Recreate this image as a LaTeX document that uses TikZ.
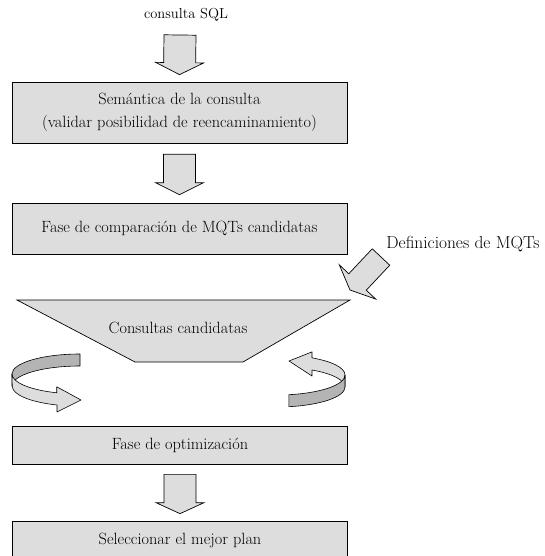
\documentclass[tikz,border=0pt]{standalone}
\usetikzlibrary{calc}

\definecolor{boxgray}{RGB}{221,221,221}
\definecolor{backgray}{RGB}{180,180,180}

% block arrow: tail, tip, half shaft, half head, head length
\newcommand{\bigarrow}[5]{%
  \path ($(#2)!#5!(#1)$) coordinate (hb);
  \draw[blockarrow] ($(#1)!#3!90:(#2)$) -- ($(hb)!#3!90:(#2)$)
    -- ($(hb)!#4!90:(#2)$) -- (#2) -- ($(hb)!#4!-90:(#2)$)
    -- ($(hb)!#3!-90:(#2)$) -- ($(#1)!#3!-90:(#2)$) -- cycle;
}

\begin{document}
\begin{tikzpicture}[
    x=1pt, y=-1pt,
    every node/.style={font=\fontsize{16.3}{23}\selectfont},
    box/.style={rectangle, draw, fill=boxgray, line width=0.7pt,
                minimum width=335pt, align=center, inner sep=0pt},
    blockarrow/.style={draw, fill=boxgray, line width=0.7pt, line join=miter},
    band/.style={draw, line width=0.6pt, line join=round},
    ring/.style={x radius=68, y radius=20}
]
  \useasboundingbox (0,0) rectangle (544,556);

  % Steps
  \node[font=\fontsize{14.5}{17}\selectfont] (sql) at (186,15) {consulta SQL};
  \node[box, minimum height=61pt] (sem) at (179.5,112.5)
    {Sem\'antica de la consulta\\(validar posibilidad de reencaminamiento)};
  \node[box, minimum height=51pt] (comp) at (179.5,228.5)
    {Fase de comparaci\'on de MQTs candidatas};
  \node[font=\fontsize{17.4}{20}\selectfont] (defs) at (463,244)
    {Definiciones de MQTs};

  % Candidate queries
  \coordinate (cand-nw) at (17,300);
  \coordinate (cand-ne) at (350,300);
  \draw[blockarrow] (cand-nw) -- (cand-ne) -- (243,362) -- (135,362) -- cycle;
  \node (cand) at (178,328) {Consultas candidatas};

  \node[box, minimum height=38pt] (opt) at (180,445) {Fase de optimizaci\'on};
  \node[box, minimum height=38pt] (sel) at (180,540) {Seleccionar el mejor plan};

  % Arrows
  \coordinate (a1t) at (180,35);
  \coordinate (a1p) at ($(sem.north)+(0,-7)$);
  \bigarrow{a1t}{a1p}{16pt}{24pt}{12pt}
  \coordinate (a2t) at ($(sem.south)+(0,11)$);
  \coordinate (a2p) at ($(comp.north)+(0,-8)$);
  \bigarrow{a2t}{a2p}{16pt}{24pt}{12pt}
  \coordinate (a3t) at (381,257);
  \coordinate (a3p) at ($(cand-ne)+(0,-10)$);
  \bigarrow{a3t}{a3p}{12pt}{25pt}{11pt}
  \coordinate (a4t) at ($(opt.south)+(0,10)$);
  \coordinate (a4p) at ($(sel.north)+(0,-7)$);
  \bigarrow{a4t}{a4p}{16pt}{24pt}{11pt}

  % Loop on the left
  \draw[band, fill=backgray] (80,354) arc[start angle=-90, end angle=-180, ring]
    -- ++(0,12) arc[start angle=180, end angle=270, ring] -- cycle;
  \draw[band, fill=boxgray] (12,374) arc[start angle=180, end angle=110, ring]
    -- ++(0,-6) -- (81,400) -- ++(-24,12) -- ++(0,-7)
    arc[start angle=110, end angle=180, ring] -- cycle;

  % Loop on the right
  \draw[band, fill=boxgray] (345,375) arc[start angle=0, end angle=-59, ring]
    -- ++(0,-6) -- (289,361) -- ++(23,15) -- ++(0,-6)
    arc[start angle=-59, end angle=0, ring] -- cycle;
  \draw[band, fill=backgray] (345,375) arc[start angle=0, end angle=80, ring]
    -- ++(0,12) arc[start angle=80, end angle=0, ring] -- cycle;
\end{tikzpicture}
\end{document}
